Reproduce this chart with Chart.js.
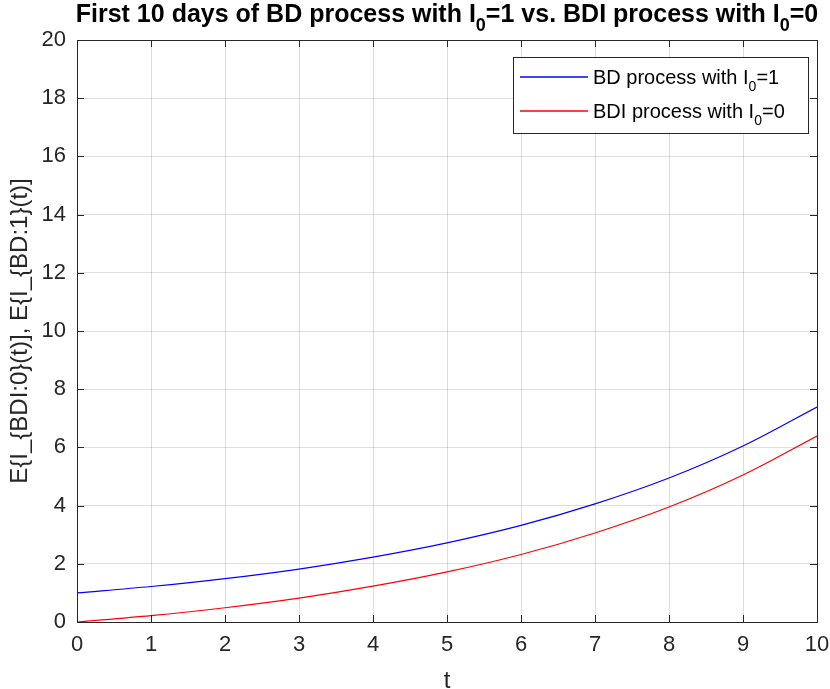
<!DOCTYPE html>
<html>
<head>
<meta charset="utf-8">
<script src="https://cdn.jsdelivr.net/npm/chart.js@4"></script>
<style>
  html, body { margin: 0; padding: 0; background: #fff; }
  #wrap { width: 830px; height: 689px; position: relative; }
</style>
</head>
<body>
<div id="wrap"><canvas id="chart" width="830" height="689"></canvas></div>
<script>
// values
const days = [0, 1, 2, 3, 4, 5, 6, 7, 8, 9, 10];
const bdValues = [1.00, 1.22, 1.49, 1.82, 2.23, 2.72, 3.32, 4.06, 4.95, 6.05, 7.39];
const bdiValues = [0.00, 0.22, 0.49, 0.82, 1.23, 1.72, 2.32, 3.06, 3.95, 5.05, 6.39];
const xTicks = [0, 1, 2, 3, 4, 5, 6, 7, 8, 9, 10];
const yTicks = [0, 2, 4, 6, 8, 10, 12, 14, 16, 18, 20];

const FONT = "'Liberation Sans', Arial, sans-serif";

// draw text with subscript parts: pieces = [[str, isSub], ...]
function drawRich(ctx, pieces, x, y, size, bold, align) {
    const big = (bold ? "bold " : "") + size + "px " + FONT;
    const small = (bold ? "bold " : "") + Math.round(size * 0.72) + "px " + FONT;
    let total = 0;
    pieces.forEach(p => {
        ctx.font = p[1] ? small : big;
        total += ctx.measureText(p[0]).width;
    });
    let cx = align === "center" ? x - total / 2 : x;
    ctx.textAlign = "left";
    ctx.textBaseline = "alphabetic";
    pieces.forEach(p => {
        ctx.font = p[1] ? small : big;
        ctx.fillText(p[0], cx, p[1] ? y + size * 0.35 : y);
        cx += ctx.measureText(p[0]).width;
    });
}

const matlabLook = {
    id: "matlabLook",
    afterDraw(chart) {
        const ctx = chart.ctx;
        const a = chart.chartArea;
        const xs = chart.scales.x, ys = chart.scales.y;
        ctx.save();

        // inward ticks
        ctx.strokeStyle = "#262626";
        ctx.lineWidth = 1;
        ctx.beginPath();
        xTicks.forEach(v => {
            const px = Math.round(xs.getPixelForValue(v)) + 0.5;
            ctx.moveTo(px, a.bottom); ctx.lineTo(px, a.bottom - 7);
            ctx.moveTo(px, a.top); ctx.lineTo(px, a.top + 7);
        });
        yTicks.forEach(v => {
            const py = Math.round(ys.getPixelForValue(v)) + 0.5;
            ctx.moveTo(a.left, py); ctx.lineTo(a.left + 7, py);
            ctx.moveTo(a.right, py); ctx.lineTo(a.right - 7, py);
        });
        ctx.stroke();

        // box
        ctx.strokeRect(Math.round(a.left) + 0.5, Math.round(a.top) + 0.5,
            Math.round(a.right - a.left), Math.round(a.bottom - a.top));

        // title
        ctx.fillStyle = "#000";
        drawRich(ctx, [["First 10 days of BD process with I", false], ["0", true],
            ["=1 vs. BDI process with I", false], ["0", true], ["=0", false]],
            (a.left + a.right) / 2, 22, 25, true, "center");

        // legend
        const lx = a.right - 304, ly = a.top + 17, lw = 295, lh = 76;
        ctx.fillStyle = "#fff";
        ctx.fillRect(lx, ly, lw, lh);
        ctx.strokeStyle = "#262626";
        ctx.strokeRect(lx + 0.5, ly + 0.5, lw, lh);
        const rows = [
            { color: "rgb(0,0,255)", pieces: [["BD process with I", false], ["0", true], ["=1", false]] },
            { color: "rgb(255,0,0)", pieces: [["BDI process with I", false], ["0", true], ["=0", false]] }
        ];
        rows.forEach((r, i) => {
            const ry = ly + 20 + i * 34;
            ctx.lineWidth = 1.3;
            ctx.strokeStyle = r.color;
            ctx.beginPath();
            ctx.moveTo(lx + 7, ry); ctx.lineTo(lx + 75, ry);
            ctx.stroke();
            ctx.fillStyle = "#000";
            drawRich(ctx, r.pieces, lx + 80, ry + 7, 20, false, "left");
        });
        ctx.restore();
    }
};

new Chart(document.getElementById("chart"), {
    type: "line",
    data: {
        datasets: [
            {
                label: "BD process with I0=1",
                data: days.map((d, i) => ({ x: d, y: bdValues[i] })),
                borderColor: "#0000ff",
                borderWidth: 1.2,
                pointRadius: 0,
                cubicInterpolationMode: "monotone"
            },
            {
                label: "BDI process with I0=0",
                data: days.map((d, i) => ({ x: d, y: bdiValues[i] })),
                borderColor: "#ff0000",
                borderWidth: 1.2,
                pointRadius: 0,
                cubicInterpolationMode: "monotone"
            }
        ]
    },
    options: {
        responsive: false,
        animation: false,
        layout: { padding: { left: 0, right: 13, top: 40, bottom: 0 } },
        plugins: { legend: { display: false }, title: { display: false }, tooltip: { enabled: false } },
        scales: {
            x: {
                type: "linear",
                min: 0, max: 10,
                afterBuildTicks: s => { s.ticks = xTicks.map(v => ({ value: v })); },
                afterFit: s => { s.height = 67; s.paddingLeft = 0; s.paddingRight = 0; },
                grid: { color: "rgba(0,0,0,0.13)", drawTicks: false },
                border: { display: false },
                ticks: { color: "#262626", padding: 10, font: { family: FONT, size: 22 } },
                title: { display: true, text: "t", color: "#262626", padding: { top: 0, bottom: -7 }, font: { family: FONT, size: 24 } }
            },
            y: {
                type: "linear",
                min: 0, max: 20,
                afterBuildTicks: s => { s.ticks = yTicks.map(v => ({ value: v })); },
                afterFit: s => { s.width = 77; s.paddingTop = 0; s.paddingBottom = 0; },
                grid: { color: "rgba(0,0,0,0.13)", drawTicks: false },
                border: { display: false },
                ticks: { color: "#262626", padding: 11, font: { family: FONT, size: 22 } },
                title: { display: true, text: "E{I_{BDI:0}(t)], E{I_{BD:1}(t)]", color: "#262626", padding: { top: 6, bottom: 0 }, font: { family: FONT, size: 24 } }
            }
        }
    },
    plugins: [matlabLook]
});
</script>
</body>
</html>
